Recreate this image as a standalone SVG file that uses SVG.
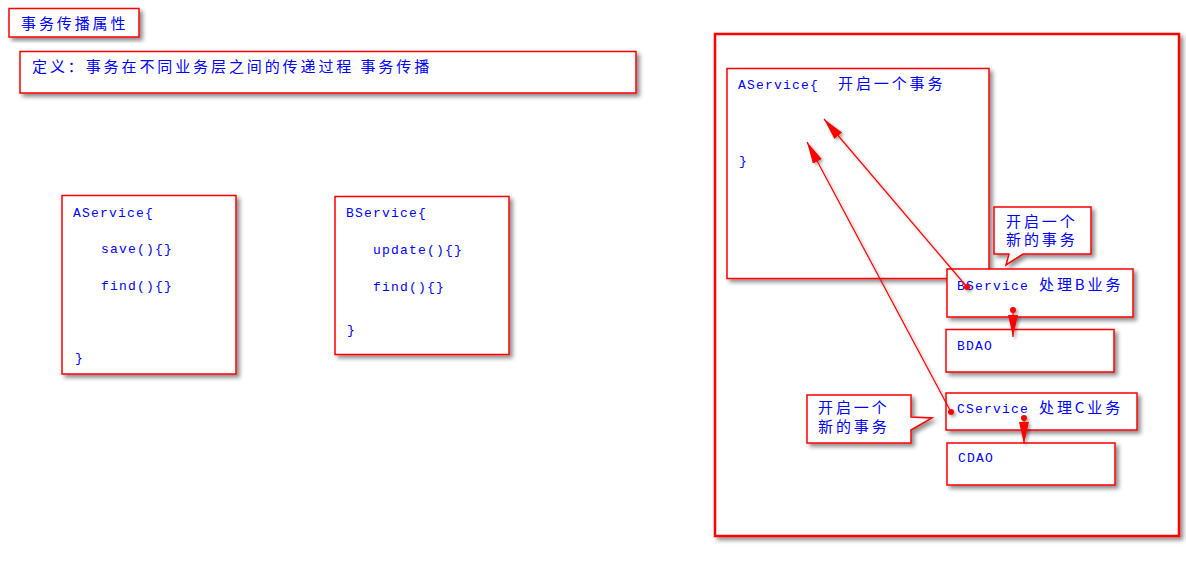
<svg xmlns="http://www.w3.org/2000/svg" width="1186" height="562" viewBox="0 0 1186 562">
<defs>
<filter id="sh" x="-10%" y="-10%" width="130%" height="130%">
<feDropShadow dx="3" dy="3" stdDeviation="2" flood-color="#000" flood-opacity="0.45"/>
</filter>
<filter id="lsh" x="-20%" y="-20%" width="150%" height="150%">
<feDropShadow dx="2" dy="2" stdDeviation="1.5" flood-color="#000" flood-opacity="0.35"/>
</filter>
<marker id="ah" markerUnits="userSpaceOnUse" markerWidth="24" markerHeight="12" refX="22" refY="5" orient="auto">
<path d="M0,0 L22,5 L0,10 z" fill="#ff0000"/>
</marker>
</defs>
<style>
.box{fill:#fff;stroke:#ff0000;stroke-width:1.5;filter:url(#sh)}
.outer{fill:#fff;stroke:#ff0000;stroke-width:2.5;filter:url(#sh)}
.cjk{font-family:"Noto Sans CJK SC","Liberation Sans",sans-serif;font-size:15px;fill:#0000ff;letter-spacing:2.9px}
.code{font-family:"Liberation Mono","Noto Sans CJK SC",monospace;font-size:13px;fill:#0000ff;letter-spacing:1.2px}
.conn{stroke:#ff0000;stroke-width:1.2;fill:none}
.dot{fill:#ff0000}
</style>

<g id="title">
<rect class="box" x="9" y="8.5" width="130" height="28.5"/>
<text class="cjk" x="21" y="29">事务传播属性</text>
</g>

<g id="definition">
<rect class="box" x="20" y="51.5" width="616" height="41.5"/>
<text class="cjk" x="32" y="72">定义：事务在不同业务层之间的传递过程 事务传播</text>
</g>

<g id="aservice-left">
<rect class="box" x="62" y="195.5" width="174" height="178.5"/>
<text class="code" x="73" y="217">AService{</text>
<text class="code" x="101" y="253">save(){}</text>
<text class="code" x="101" y="290">find(){}</text>
<text class="code" x="75" y="362">}</text>
</g>

<g id="bservice-left">
<rect class="box" x="335" y="196.5" width="174" height="158"/>
<text class="code" x="346" y="217">BService{</text>
<text class="code" x="373" y="254">update(){}</text>
<text class="code" x="373" y="291">find(){}</text>
<text class="code" x="347" y="334">}</text>
</g>

<g id="right-frame">
<rect class="outer" x="715" y="34" width="464" height="502"/>
</g>

<g id="aservice-right">
<rect class="box" x="727" y="68.5" width="262" height="210"/>
<text class="code" x="738" y="89">AService{</text>
<text class="cjk" x="838" y="89">开启一个事务</text>
<text class="code" x="739" y="165">}</text>
</g>

<g id="callout-b">
<path class="box" d="M994,207 L1091,207 L1091,254 L1023,254 L1006,265 L1009,254 L994,254 Z"/>
<text class="cjk" x="1006" y="227">开启一个</text>
<text class="cjk" x="1006" y="245">新的事务</text>
</g>

<g id="bservice-right">
<rect class="box" x="947" y="269" width="186" height="48"/>
<text class="code" x="957" y="290">BService</text>
<text class="cjk" x="1039" y="290">处理B业务</text>
</g>

<g id="bdao">
<rect class="box" x="946" y="329.5" width="168" height="42.5"/>
<text class="code" x="957" y="350">BDAO</text>
</g>

<g id="callout-c">
<path class="box" d="M807,395 L911,395 L911,417 L932,418 L911,430 L911,443 L807,443 Z"/>
<text class="cjk" x="818" y="413">开启一个</text>
<text class="cjk" x="818" y="432">新的事务</text>
</g>

<g id="cservice-right">
<rect class="box" x="946" y="393" width="191" height="37"/>
<text class="code" x="957" y="413">CService</text>
<text class="cjk" x="1039" y="413">处理C业务</text>
</g>

<g id="cdao">
<rect class="box" x="947" y="443" width="168" height="42"/>
<text class="code" x="958" y="462">CDAO</text>
</g>

<g id="connectors" filter="url(#lsh)">
<line class="conn" x1="967" y1="287" x2="824" y2="119" marker-end="url(#ah)"/>
<circle class="dot" cx="967" cy="287" r="3"/>
<line class="conn" x1="951" y1="412" x2="807" y2="142" marker-end="url(#ah)"/>
<circle class="dot" cx="951" cy="412" r="3"/>
<line class="conn" x1="1013" y1="310" x2="1013" y2="337" marker-end="url(#ah)"/>
<circle class="dot" cx="1013" cy="310" r="3"/>
<line class="conn" x1="1024" y1="418" x2="1024" y2="444" marker-end="url(#ah)"/>
<circle class="dot" cx="1024" cy="418" r="3"/>
</g>
</svg>
